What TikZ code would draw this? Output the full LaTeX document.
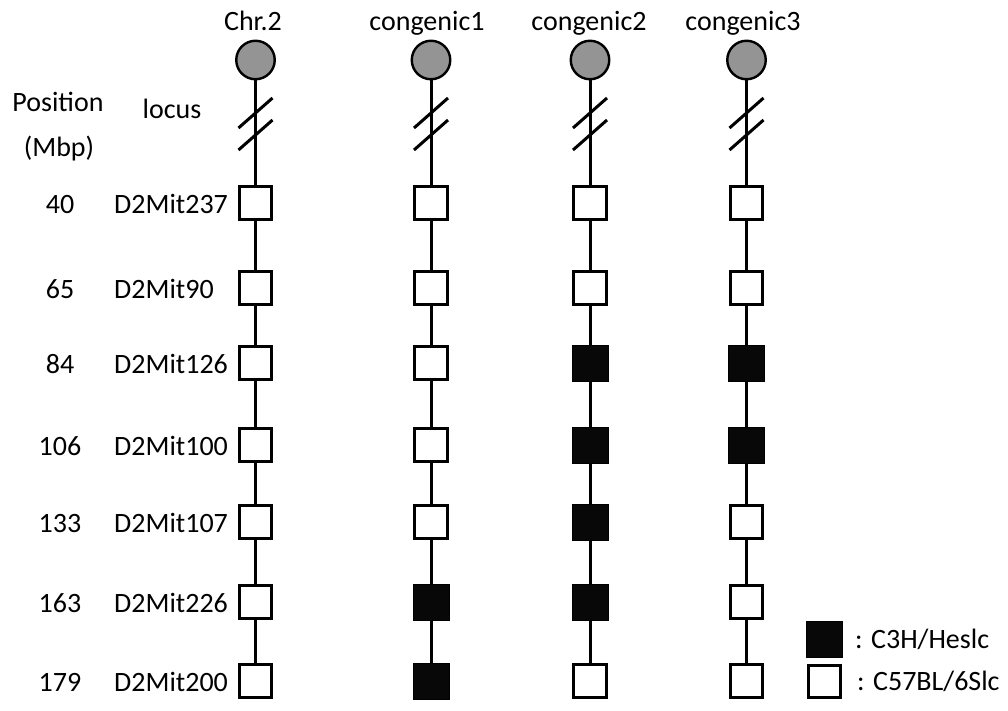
\documentclass[tikz,border=0pt]{standalone}
\usepackage{fontspec}
\setmainfont{Carlito}
\begin{document}
\begin{tikzpicture}[x=1pt,y=-1pt,
  every node/.style={font=\fontsize{28}{33}\selectfont, inner sep=0pt},
  lbl/.style={anchor=base},
  lblw/.style={anchor=base west},
  genow/.style={draw, line width=3pt, fill=white, minimum size=32.5pt},
  genob/.style={draw, line width=1pt, fill=black!97, minimum size=36pt},
  chrom/.style={circle, draw, line width=2.4pt, fill=black!42, minimum size=38.5pt},
  conn/.style={line width=3pt},
  slash/.style={line width=3pt}
]
\useasboundingbox (0,0) rectangle (1008,710);

% headers
\node[lbl] (hA) at (253,30) {Chr.2};
\node[lbl] (hB) at (427,30) {congenic1};
\node[lbl] (hC) at (589,30) {congenic2};
\node[lbl] (hD) at (743,30) {congenic3};
\node[lbl] (hpos) at (58,111.5) {Position};
\node[lbl] (hmbp) at (59,156) {(Mbp)};
\node[lbl] (hloc) at (172,118) {locus};

% row labels
\foreach \y/\p/\m [count=\i] in {203/40/D2Mit237, 288/65/D2Mit90, 363/84/D2Mit126, 445/106/D2Mit100, 522/133/D2Mit107, 602/163/D2Mit226, 681/179/D2Mit200}{
  \node[lbl] (pos\i) at (60,\y+10) {\p};
  \node[lblw] (loc\i) at (114,\y+10) {\m};
}

% columns
\foreach \c/\x/\pa/\pb/\pc/\pd/\pe/\pf/\pg in {
  A/255.5/w/w/w/w/w/w/w,
  B/431/w/w/w/w/w/b/b,
  C/590/w/w/b/b/b/b/w,
  D/746.5/w/w/b/b/w/w/w}{
  \node[chrom] (\c0) at (\x,60) {};
  \node[geno\pa] (\c1) at (\x,203) {};
  \node[geno\pb] (\c2) at (\x,288) {};
  \node[geno\pc] (\c3) at (\x,363) {};
  \node[geno\pd] (\c4) at (\x,445) {};
  \node[geno\pe] (\c5) at (\x,522) {};
  \node[geno\pf] (\c6) at (\x,602) {};
  \node[geno\pg] (\c7) at (\x,681) {};
  \foreach \i [evaluate=\i as \j using int(\i+1)] in {0,...,6}{
    \draw[conn] (\c\i) -- (\c\j);
  }
  \draw[slash] (\x-17,128) -- (\x+17,98);
  \draw[slash] (\x-17,150) -- (\x+17,120);
}

% legend
\node[genob] (legb) at (824.5,639.5) {};
\node[genow] (legw) at (824.5,681.5) {};
\node[lblw] (legbt) at (855,648.5) {: C3H/Heslc};
\node[lblw] (legwt) at (857,690) {: C57BL/6Slc};
\end{tikzpicture}
\end{document}
